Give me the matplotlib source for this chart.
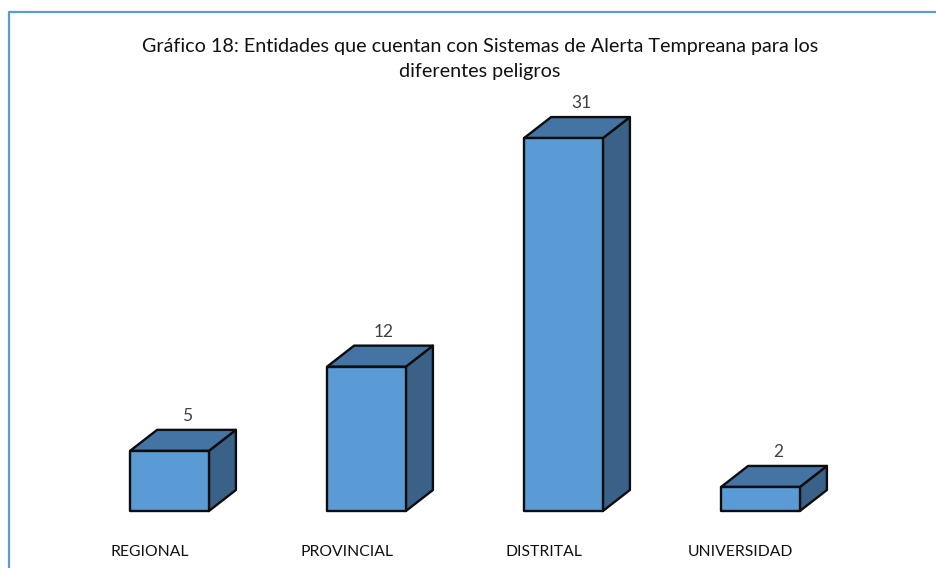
import matplotlib
matplotlib.use('Agg')
import matplotlib.pyplot as plt
from matplotlib.patches import Polygon, Rectangle

# Datos
categorias = ['REGIONAL', 'PROVINCIAL', 'DISTRITAL', 'UNIVERSIDAD']
valores = [5, 12, 31, 2]
titulo = 'Gráfico 18: Entidades que cuentan con Sistemas de Alerta Tempreana para los\ndiferentes peligros'

plt.rcParams['font.family'] = ['Lato', 'DejaVu Sans']

fig = plt.figure(figsize=(9.36, 5.68), dpi=100)
ax = fig.add_axes([0, 0, 1, 1])

# escala: 197 px entre barras, 12.03 px por unidad, origen en (169.5, 511)
ax.set_xlim(-169.5 / 197, (936 - 169.5) / 197)
ax.set_ylim((511 - 568) / 12.03, 511 / 12.03)
ax.axis('off')

ancho = 0.4
dx = 27 / 197
dy = 21 / 12.03
negro = '#0d0d0d'

for i, v in enumerate(valores):
    izq = i - ancho / 2
    der = i + ancho / 2
    # cara lateral
    ax.add_patch(Polygon([(der, 0), (der + dx, dy), (der + dx, v + dy), (der, v)],
                         facecolor='#3a6289', edgecolor=negro, lw=1.7, joinstyle='round'))
    # cara superior
    ax.add_patch(Polygon([(izq, v), (izq + dx, v + dy), (der + dx, v + dy), (der, v)],
                         facecolor='#4374a3', edgecolor=negro, lw=1.7, joinstyle='round'))
    # cara frontal
    ax.add_patch(Rectangle((izq, 0), ancho, v, facecolor='#5b9bd5', edgecolor=negro,
                           lw=1.7, joinstyle='round'))
    ax.text(i + dx * 0.5 + 0.02, v + dy + 1.15, str(v), ha='center', va='center',
            fontsize=12.5, color='#404040')
    ax.text(i - 0.1, -3.4, categorias[i], ha='center', va='center',
            fontsize=11.3, color='#111111')

fig.text(480 / 936, 1 - 59 / 568, titulo, ha='center', va='center', fontsize=14.2,
         color='#111111', linespacing=1.55)

# marco azul abierto por la derecha y abajo
fig.add_artist(plt.Line2D([9 / 936, 9 / 936, 1], [0, 1 - 12 / 568, 1 - 12 / 568],
                          color='#5b9bd5', lw=1.6))

fig.savefig('out.png', dpi=100)
